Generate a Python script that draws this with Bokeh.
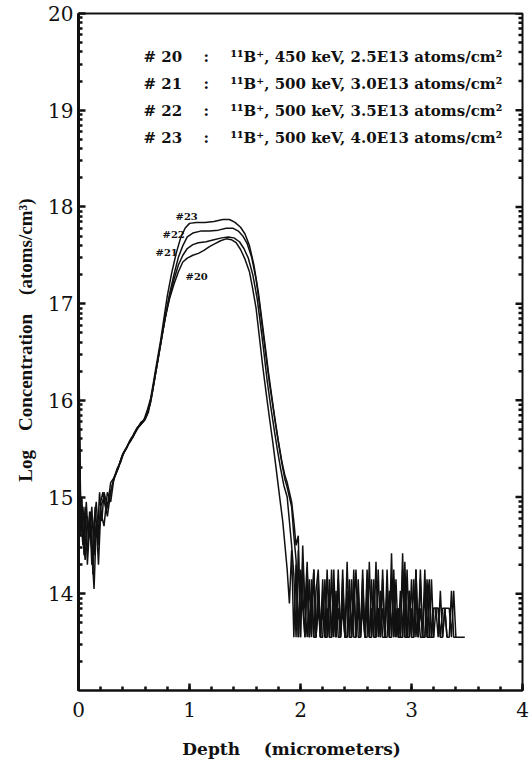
import math
from bokeh.plotting import figure
from bokeh.models import FixedTicker, SingleIntervalTicker, Label, Range1d
from bokeh.embed import file_html
from bokeh.resources import INLINE

# ---------------- data ----------------
series_names = ["#20", "#21", "#22", "#23"]
legend_ids = ["# 20", "# 21", "# 22", "# 23"]
legend_texts = [
    "\u00b9\u00b9B\u207a, 450 keV, 2.5E13 atoms/cm\u00b2",
    "\u00b9\u00b9B\u207a, 500 keV, 3.0E13 atoms/cm\u00b2",
    "\u00b9\u00b9B\u207a, 500 keV, 3.5E13 atoms/cm\u00b2",
    "\u00b9\u00b9B\u207a, 500 keV, 4.0E13 atoms/cm\u00b2",
]
x_ticks = [0, 1, 2, 3, 4]
y_ticks = [14, 15, 16, 17, 18, 19, 20]

depth_20 = [0.00, 0.01, 0.02, 0.03, 0.05, 0.07, 0.09, 0.11, 0.13, 0.15, 0.17, 0.19, 0.21, 0.23, 0.26, 0.29,
            0.33, 0.36, 0.39, 0.42, 0.45, 0.48, 0.51, 0.54, 0.57, 0.60, 0.63, 0.66, 0.69, 0.72, 0.75, 0.78,
            0.82, 0.86, 0.90, 0.94, 0.98, 1.03, 1.08, 1.13, 1.18, 1.23, 1.28, 1.33, 1.38, 1.42, 1.46, 1.50,
            1.54, 1.57, 1.60, 1.63, 1.66, 1.69, 1.72, 1.75, 1.78, 1.81, 1.84, 1.86]
conc_20 = [16.90, 15.80, 14.60, 15.00, 14.40, 14.95, 14.55, 14.85, 14.20, 14.90, 14.60, 15.05, 14.75, 15.05, 14.90, 15.15,
           15.22, 15.30, 15.42, 15.48, 15.55, 15.60, 15.66, 15.72, 15.76, 15.80, 15.88, 16.05, 16.25, 16.45, 16.65, 16.85,
           17.05, 17.20, 17.33, 17.43, 17.47, 17.50, 17.52, 17.55, 17.59, 17.62, 17.65, 17.67, 17.66, 17.63, 17.56, 17.46,
           17.33, 17.15, 16.95, 16.65, 16.35, 16.08, 15.82, 15.57, 15.30, 15.02, 14.75, 14.50]

depth_21 = [0.00, 0.01, 0.02, 0.04, 0.06, 0.08, 0.10, 0.12, 0.14, 0.16, 0.18, 0.20, 0.22, 0.25, 0.28, 0.31,
            0.34, 0.37, 0.40, 0.43, 0.46, 0.49, 0.52, 0.55, 0.58, 0.61, 0.64, 0.67, 0.70, 0.73, 0.76, 0.79,
            0.82, 0.86, 0.90, 0.94, 0.98, 1.03, 1.08, 1.15, 1.22, 1.29, 1.35, 1.40, 1.45, 1.49, 1.53, 1.57,
            1.61, 1.64, 1.67, 1.70, 1.73, 1.76, 1.79, 1.82, 1.85]
conc_21 = [16.70, 15.40, 14.80, 14.50, 14.90, 14.30, 14.70, 14.45, 14.05, 14.70, 14.50, 14.95, 15.05, 14.85, 15.00, 15.15,
           15.25, 15.35, 15.45, 15.50, 15.58, 15.62, 15.70, 15.74, 15.78, 15.84, 15.95, 16.12, 16.32, 16.52, 16.72, 16.90,
           17.07, 17.25, 17.40, 17.50, 17.57, 17.61, 17.63, 17.64, 17.66, 17.68, 17.69, 17.68, 17.64, 17.57, 17.47, 17.30,
           17.05, 16.78, 16.50, 16.20, 15.95, 15.72, 15.50, 15.30, 15.12]

depth_22 = [0.00, 0.01, 0.02, 0.04, 0.06, 0.08, 0.10, 0.12, 0.14, 0.16, 0.18, 0.20, 0.23, 0.26, 0.29, 0.32,
            0.35, 0.38, 0.41, 0.44, 0.47, 0.50, 0.53, 0.56, 0.59, 0.62, 0.65, 0.68, 0.71, 0.74, 0.77, 0.80,
            0.82, 0.86, 0.90, 0.94, 0.98, 1.03, 1.10, 1.18, 1.26, 1.33, 1.39, 1.44, 1.48, 1.52, 1.56, 1.60,
            1.63, 1.66, 1.69, 1.72, 1.75, 1.78, 1.81, 1.84, 1.86]
conc_22 = [16.80, 15.60, 14.90, 14.60, 14.35, 14.80, 14.60, 14.90, 14.40, 14.75, 14.30, 14.85, 14.70, 15.05, 14.95, 15.20,
           15.28, 15.38, 15.46, 15.52, 15.60, 15.65, 15.72, 15.75, 15.79, 15.86, 15.98, 16.18, 16.38, 16.58, 16.78, 16.98,
           17.10, 17.30, 17.48, 17.60, 17.69, 17.73, 17.75, 17.75, 17.76, 17.78, 17.78, 17.75, 17.70, 17.62, 17.48, 17.25,
           17.00, 16.72, 16.45, 16.18, 15.95, 15.72, 15.50, 15.30, 15.18]

depth_23 = [0.00, 0.01, 0.02, 0.04, 0.06, 0.08, 0.10, 0.12, 0.14, 0.16, 0.18, 0.20, 0.23, 0.26, 0.29, 0.32,
            0.35, 0.38, 0.41, 0.44, 0.47, 0.50, 0.53, 0.56, 0.59, 0.62, 0.65, 0.68, 0.71, 0.74, 0.77,
            0.80, 0.84, 0.88, 0.92, 0.96, 1.00, 1.06, 1.14, 1.22, 1.30, 1.36, 1.41, 1.46, 1.50, 1.54, 1.58,
            1.62, 1.65, 1.68, 1.71, 1.74, 1.77, 1.80, 1.83, 1.86]
conc_23 = [16.60, 15.20, 14.70, 14.90, 14.55, 14.45, 14.85, 14.30, 14.75, 14.95, 14.60, 14.90, 15.00, 14.80, 15.05, 15.20,
           15.30, 15.36, 15.47, 15.53, 15.58, 15.66, 15.71, 15.77, 15.80, 15.90, 16.02, 16.22, 16.42, 16.62, 16.85,
           17.08, 17.32, 17.52, 17.68, 17.78, 17.83, 17.84, 17.84, 17.85, 17.87, 17.87, 17.84, 17.79, 17.72, 17.60, 17.40,
           17.12, 16.85, 16.58, 16.30, 16.05, 15.80, 15.58, 15.38, 15.22]

# deep tail (detection-limit noise), sampled on a common depth list
tail_depth = [1.88, 1.90, 1.92, 1.94, 1.96, 1.98, 2.00, 2.02, 2.04, 2.06, 2.08, 2.10, 2.12, 2.14, 2.16, 2.18,
              2.20, 2.22, 2.24, 2.26, 2.28, 2.30, 2.32, 2.34, 2.36, 2.38, 2.40, 2.42, 2.44, 2.46, 2.48, 2.50,
              2.52, 2.54, 2.56, 2.58, 2.60, 2.62, 2.64, 2.66, 2.68, 2.70, 2.72, 2.74, 2.76, 2.78, 2.80, 2.82,
              2.84, 2.86, 2.88, 2.90, 2.92, 2.94, 2.96, 2.98, 3.00, 3.02, 3.04, 3.06, 3.08, 3.10, 3.12, 3.14,
              3.16, 3.18, 3.20, 3.22, 3.24, 3.26, 3.28, 3.30, 3.32, 3.34, 3.36, 3.38, 3.40, 3.42, 3.44, 3.46, 3.48]
tail_20 = [14.25, 13.90, 14.45, 13.55, 14.30, 13.55, 14.15, 13.85, 13.55, 14.25, 13.55, 14.03, 13.55, 13.55, 14.15, 13.55,
           13.85, 13.55, 14.25, 13.55, 13.55, 14.03, 13.55, 14.15, 13.55, 13.85, 13.55, 14.33, 13.55, 13.55, 14.03, 13.55,
           14.15, 13.55, 13.85, 13.55, 14.25, 13.55, 13.55, 14.03, 13.55, 13.85, 13.55, 14.15, 13.55, 13.55, 14.03, 13.55,
           14.25, 13.55, 13.85, 13.55, 13.55, 14.15, 13.55, 14.03, 13.55, 13.55, 14.25, 13.55, 13.85, 13.55, 14.03, 13.55,
           13.55, 14.15, 13.55]
tail_21 = [15.00, 14.75, 14.50, 14.20, 13.55, 14.45, 13.55, 14.33, 13.85, 13.55, 14.15, 13.55, 14.25, 13.55, 13.85, 13.55,
           14.03, 13.55, 13.55, 14.15, 13.55, 13.85, 13.55, 14.25, 13.55, 14.03, 13.55, 13.55, 14.15, 13.55, 14.25, 13.55,
           13.85, 13.55, 14.03, 13.55, 13.55, 14.33, 13.55, 14.15, 13.55, 13.85, 13.55, 14.25, 13.55, 14.03, 13.55, 13.55,
           14.15, 13.55, 13.85, 13.55, 14.25, 13.55, 13.55, 14.03, 13.55, 14.15, 13.55, 13.85, 13.55, 13.55, 14.25, 13.55,
           14.03, 13.55, 13.85, 13.85, 13.55, 14.03, 13.55, 13.85, 13.55]
tail_22 = [15.10, 15.00, 14.90, 14.60, 14.35, 13.55, 14.25, 14.03, 13.55, 14.15, 13.55, 13.85, 14.25, 13.55, 14.03, 13.55,
           13.55, 14.15, 13.55, 14.03, 13.55, 14.25, 13.55, 13.85, 13.55, 14.15, 13.55, 13.55, 14.03, 13.55, 13.85, 14.25,
           13.55, 13.55, 14.15, 13.55, 14.03, 13.55, 13.85, 13.55, 14.33, 13.55, 14.03, 13.55, 13.55, 14.25, 13.55, 14.15,
           13.55, 13.85, 13.55, 14.03, 13.55, 14.33, 13.55, 13.55, 14.15, 13.55, 14.03, 13.55, 14.25, 13.55, 13.55, 13.85,
           14.15, 13.55, 13.55, 13.85, 13.85, 13.55, 13.85, 13.85, 13.55, 13.55, 14.03, 13.55, 13.55]
tail_23 = [15.15, 15.05, 14.95, 14.75, 14.50, 14.60, 13.55, 14.50, 13.85, 14.33, 13.55, 14.15, 13.55, 14.03, 14.25, 13.55,
           14.15, 13.55, 13.85, 13.55, 14.25, 13.55, 14.03, 13.55, 13.55, 14.25, 13.55, 14.03, 13.55, 14.15, 13.55, 13.55,
           14.03, 13.55, 14.25, 13.55, 13.85, 13.55, 14.15, 13.55, 13.55, 14.25, 13.55, 13.85, 13.55, 14.03, 13.55, 14.42,
           13.55, 14.15, 13.55, 13.55, 14.42, 13.55, 14.25, 13.55, 13.85, 13.55, 14.25, 13.55, 14.15, 13.55, 13.55, 14.15,
           13.55, 13.55, 13.85, 13.85, 13.85, 13.55, 13.55, 13.85, 13.85, 13.85, 13.55, 14.03, 13.55, 13.55, 13.55, 13.55,
           13.55]

curves = [
    (depth_20, conc_20, tail_20),
    (depth_21, conc_21, tail_21),
    (depth_22, conc_22, tail_22),
    (depth_23, conc_23, tail_23),
]

# ---------------- layout / style ----------------
SERIF = "Liberation Serif"
WIDE = "DejaVu Serif"
INK = "#111111"
NB = "\u00a0"
MAJ_LEN = 7
MIN_LEN = 4

p = figure(width=529, height=765, x_range=Range1d(0, 4), y_range=Range1d(13, 20),
           output_backend="svg", toolbar_location=None,
           min_border_left=78, min_border_right=7, min_border_top=13, min_border_bottom=75,
           background_fill_color="white", border_fill_color="white")
p.grid.visible = False
p.outline_line_color = INK
p.outline_line_width = 2

log_minor = [d + math.log10(k) for d in range(13, 20) for k in range(2, 10)]

xa = p.xaxis[0]
xa.ticker = SingleIntervalTicker(interval=1, num_minor_ticks=5)
xa.major_tick_in = MAJ_LEN
xa.major_tick_out = 0
xa.minor_tick_in = MIN_LEN
xa.minor_tick_out = 0
xa.axis_line_width = 2
xa.axis_line_color = INK
xa.major_tick_line_width = 2.5
xa.minor_tick_line_width = 2.5
xa.major_tick_line_color = INK
xa.minor_tick_line_color = INK
xa.major_label_text_font = WIDE
xa.major_label_text_font_size = "20px"
xa.major_label_text_color = INK
xa.major_label_standoff = 11
xa.axis_label = "Depth" + NB * 4 + "(micrometers)" + NB * 3
xa.axis_label_text_font = WIDE
xa.axis_label_text_font_style = "bold"
xa.axis_label_text_font_size = "17px"
xa.axis_label_text_color = INK
xa.axis_label_standoff = 19

ya = p.yaxis[0]
ya.ticker = FixedTicker(ticks=y_ticks, minor_ticks=log_minor)
ya.major_tick_in = MAJ_LEN
ya.major_tick_out = 0
ya.minor_tick_in = MIN_LEN
ya.minor_tick_out = 0
ya.axis_line_width = 3
ya.axis_line_color = INK
ya.major_tick_line_width = 2.5
ya.minor_tick_line_width = 2.5
ya.major_tick_line_color = INK
ya.minor_tick_line_color = INK
ya.major_label_text_font = WIDE
ya.major_label_text_font_size = "20px"
ya.major_label_text_color = INK
ya.major_label_standoff = 5
ya.axis_label = NB * 5 + "Log" + NB * 4 + "Concentration" + NB * 4 + "(atoms/cm\u00b3)"
ya.axis_label_text_font = SERIF
ya.axis_label_text_font_style = "bold"
ya.axis_label_text_font_size = "19px"
ya.axis_label_text_color = INK
ya.axis_label_standoff = 9

# ticks on the right frame edge (no labels), drawn from the same tick lists
px_per_x = 444 / 4.0
p.segment(x0=[4.0] * len(y_ticks), x1=[4.0 - MAJ_LEN / px_per_x] * len(y_ticks), y0=y_ticks, y1=y_ticks,
          line_color=INK, line_width=2.5)
p.segment(x0=[4.0] * len(log_minor), x1=[4.0 - MIN_LEN / px_per_x] * len(log_minor), y0=log_minor, y1=log_minor,
          line_color=INK, line_width=2.5)

for depth, conc, tail in curves:
    xs = list(depth) + tail_depth[:len(tail)]
    ys = list(conc) + list(tail)
    p.line(xs, ys, line_color=INK, line_width=1.5)

# legend block (positions are layout, in data units)
leg_rows_y = [19.555, 19.276, 18.997, 18.717]
for ident, txt, yy in zip(legend_ids, legend_texts, leg_rows_y):
    p.add_layout(Label(x=0.586, y=yy, text=ident, text_font=WIDE, text_font_style="bold",
                       text_font_size="15px", text_baseline="middle", text_color=INK))
    p.add_layout(Label(x=1.126, y=yy, text=":", text_font=WIDE, text_font_style="bold",
                       text_font_size="15px", text_baseline="middle", text_color=INK))
    p.add_layout(Label(x=1.369, y=yy, text=txt, text_font=WIDE, text_font_style="bold",
                       text_font_size="15px", text_baseline="middle", text_color=INK))

# curve tags
tag_pos = {"#23": (0.874, 17.90), "#22": (0.757, 17.72), "#21": (0.694, 17.53), "#20": (0.964, 17.28)}
for name in series_names:
    tx, ty = tag_pos[name]
    p.add_layout(Label(x=tx, y=ty, text=name, text_font=WIDE, text_font_style="bold",
                       text_font_size="10px", text_baseline="middle", text_color=INK))

open("out.html", "w").write(file_html(p, INLINE))
